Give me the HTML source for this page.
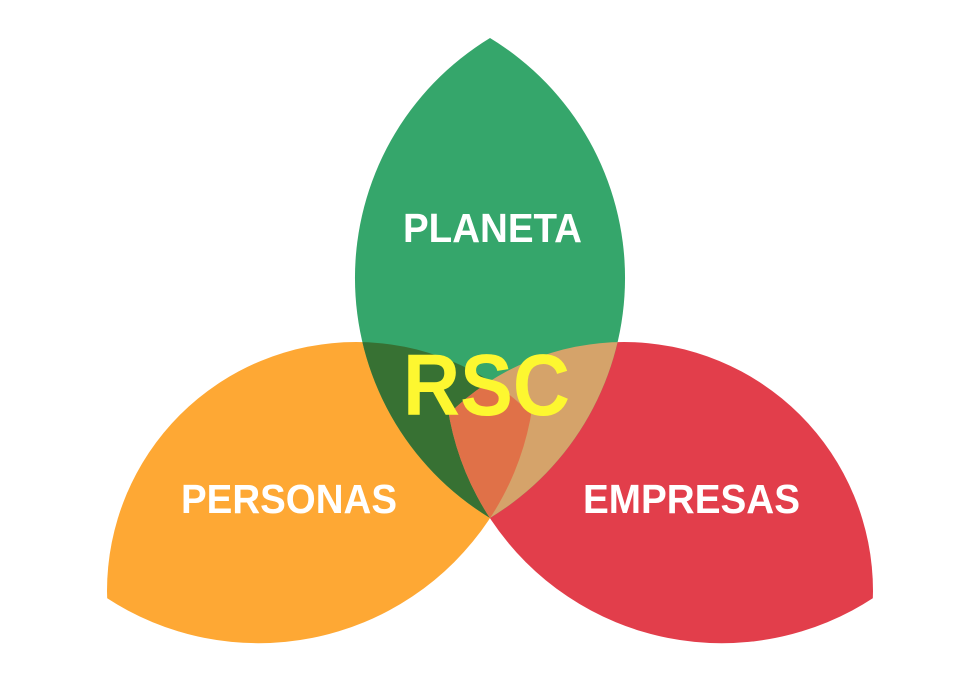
<!DOCTYPE html>
<html><head><meta charset="utf-8"><style>
html,body{margin:0;padding:0;background:#fff;}
svg{display:block;}
text{font-family:"Liberation Sans",sans-serif;}
</style></head><body>
<svg width="980" height="681" viewBox="0 0 980 681" xmlns="http://www.w3.org/2000/svg">
<defs>
<clipPath id="cG"><path d="M490,38 A280.8,280.8 0 0 0 490,518 A280.8,280.8 0 0 0 490,38 Z"/></clipPath>
<clipPath id="cO"><circle cx="356" cy="591" r="249"/></clipPath>
<clipPath id="cO2"><circle cx="258.4" cy="366.2" r="277"/></clipPath>
<clipPath id="cR"><circle cx="624" cy="591" r="249"/></clipPath>
<clipPath id="cR2"><circle cx="721.6" cy="366.2" r="277"/></clipPath>
</defs>
<!-- orange -->
<g clip-path="url(#cO)"><circle cx="258.4" cy="366.2" r="277" fill="#fea834"/></g>
<!-- red -->
<g clip-path="url(#cR)"><circle cx="721.6" cy="366.2" r="277" fill="#e23e4b"/></g>
<!-- green -->
<path d="M490,38 A280.8,280.8 0 0 0 490,518 A280.8,280.8 0 0 0 490,38 Z" fill="#35a66b"/>
<!-- green ∩ orange -->
<g clip-path="url(#cG)"><g clip-path="url(#cO)"><circle cx="258.4" cy="366.2" r="277" fill="#377133"/></g></g>
<!-- green ∩ red -->
<g clip-path="url(#cG)"><g clip-path="url(#cR)"><circle cx="721.6" cy="366.2" r="277" fill="#d5a36a"/></g></g>
<!-- triple -->
<g clip-path="url(#cG)"><g clip-path="url(#cO)"><g clip-path="url(#cO2)"><g clip-path="url(#cR)"><circle cx="721.6" cy="366.2" r="277" fill="#e07148"/></g></g></g></g>
<text x="403" y="242" font-size="41" font-weight="bold" fill="#fff" textLength="179" lengthAdjust="spacingAndGlyphs">PLANETA</text>
<text x="181" y="513" font-size="41" font-weight="bold" fill="#fff" textLength="216" lengthAdjust="spacingAndGlyphs">PERSONAS</text>
<text x="583" y="513" font-size="41" font-weight="bold" fill="#fff" textLength="217" lengthAdjust="spacingAndGlyphs">EMPRESAS</text>
<text x="403" y="415" font-size="87" font-weight="bold" fill="#fdf730" textLength="167" lengthAdjust="spacingAndGlyphs">RSC</text>
</svg>
</body></html>
